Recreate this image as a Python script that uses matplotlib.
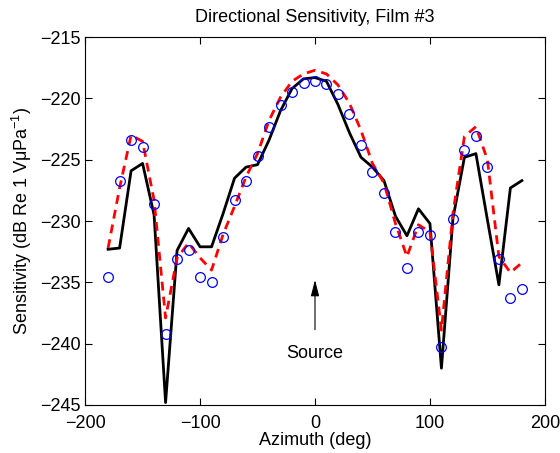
import numpy as np
import matplotlib
matplotlib.use("Agg")
import matplotlib.pyplot as plt

plt.rcParams['font.family'] = ['Liberation Sans', 'DejaVu Sans']
plt.rcParams['mathtext.fontset'] = 'custom'
plt.rcParams['mathtext.rm'] = 'Liberation Sans'
plt.rcParams['mathtext.it'] = 'Liberation Sans:italic'

# azimuth in deg, every 10 deg
azimuth = np.arange(-180, 181, 10)

# measured (black solid)
measured = [-232.3, -232.2, -225.9, -225.3, -229.5, -244.8, -232.4, -230.6,
            -232.1, -232.1, -229.4, -226.5, -225.6, -225.4, -223.4, -221.0,
            -219.2, -218.4, -218.3, -218.6, -220.5, -222.8, -224.8, -225.6,
            -226.7, -229.6, -231.2, -229.0, -230.2, -242.0, -229.8, -224.8,
            -224.5, -229.9, -235.2, -227.3, -226.7]

# model (red dashed)
model = [-232.2, -227.3, -223.0, -223.5, -228.3, -237.9, -233.0, -231.8,
         -233.0, -234.0, -231.1, -228.8, -226.4, -224.5, -221.8, -219.9,
         -218.6, -218.0, -217.7, -218.0, -218.9, -220.4, -222.6, -225.3,
         -226.9, -230.2, -232.9, -230.3, -230.9, -238.9, -229.4, -223.1,
         -222.3, -225.0, -232.9, -234.2, -233.4]

# circles (blue)
circles = [-234.6, -226.7, -223.4, -224.0, -228.6, -239.2, -233.1, -232.4,
           -234.6, -235.0, -231.3, -228.3, -226.7, -224.7, -222.3, -220.5,
           -219.5, -218.7, -218.6, -218.8, -219.6, -221.3, -223.8, -226.0,
           -227.7, -230.9, -233.8, -230.9, -231.1, -240.3, -229.8, -224.2,
           -223.1, -225.6, -233.1, -236.3, -235.5]

fig = plt.figure(figsize=(5.6, 4.53), dpi=100)
ax = fig.add_axes([0.152, 0.106, 0.821, 0.812])

ax.plot(azimuth, measured, color='black', lw=2)
ax.plot(azimuth, model, color='red', lw=2, ls=(0, (3.2, 2.2)))
ax.plot(azimuth, circles, 'o', mfc='none', mec='blue', ms=7, mew=0.9)

ax.annotate('Source', xy=(0, -234.8), xytext=(0, -240.8),
            ha='center', va='center', fontsize=13,
            arrowprops=dict(arrowstyle='-|>,head_width=0.18,head_length=0.7',
                            color='black', lw=0.8,
                            mutation_scale=14, shrinkA=9, shrinkB=0))

ax.set_xlim(-200, 200)
ax.set_ylim(-245, -215)
ax.set_xticks([-200, -100, 0, 100, 200])
ax.set_yticks(np.arange(-245, -214, 5))
ax.tick_params(direction='in', top=True, right=True, labelsize=13, length=5, width=0.8)
ax.tick_params(axis='x', pad=7)
for s in ax.spines.values():
    s.set_linewidth(0.8)

ax.set_xlabel('Azimuth (deg)', fontsize=13, labelpad=0)
ax.set_ylabel('Sensitivity (dB Re 1 V\u03bcPa$^{-1}$)', fontsize=13, labelpad=4)
ax.set_title('Directional Sensitivity, Film #3', fontsize=13, pad=11)

fig.savefig('out.png', dpi=100)
